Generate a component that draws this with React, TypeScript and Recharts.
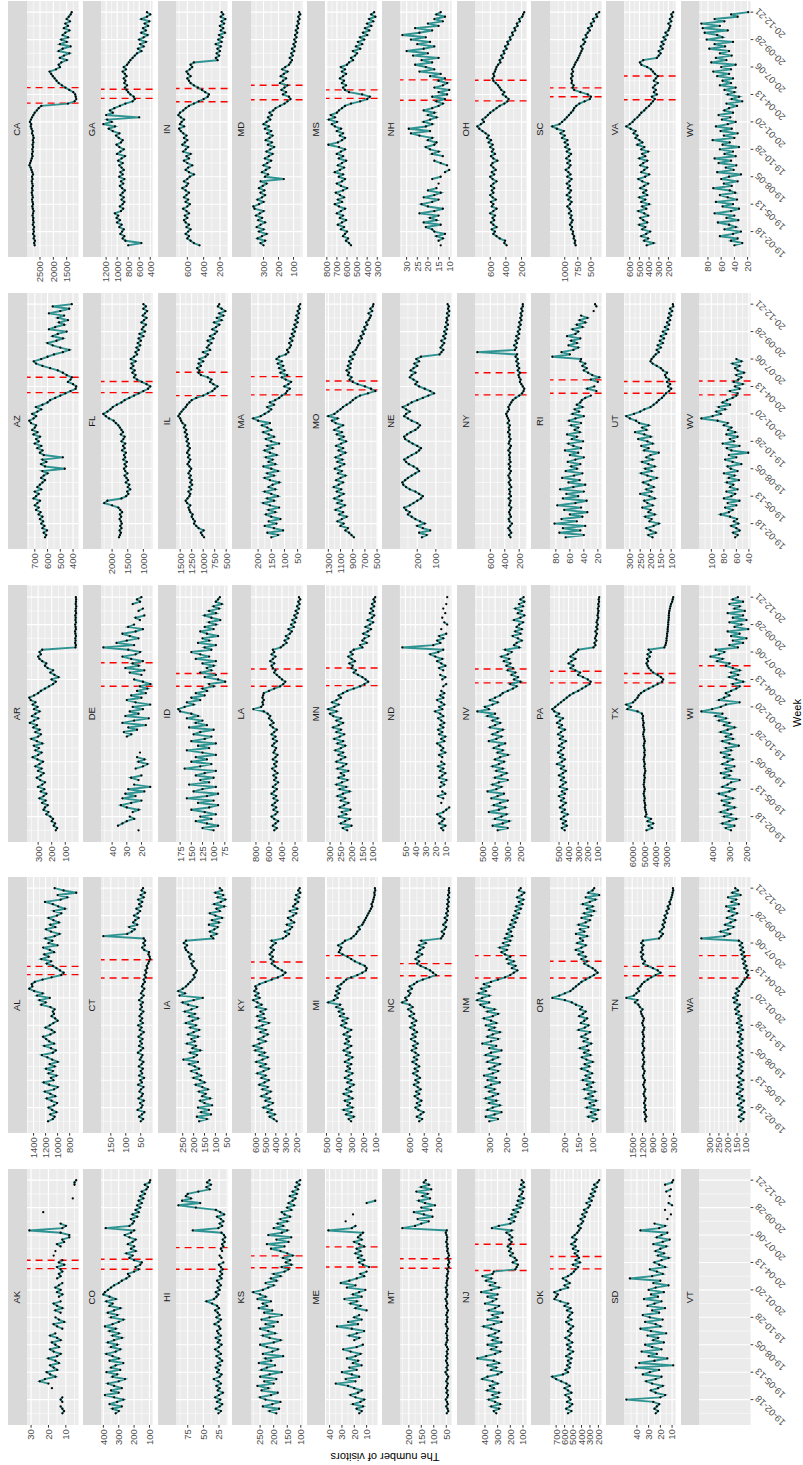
import React from 'react'
import { LineChart, Line, XAxis, YAxis, CartesianGrid, ReferenceLine } from 'recharts'

const _ = null

// weeks counted from 2019-02-18 (first point 2019-01-07, last 2020-12-21)
const WEEKS = [
  -6, -5, -4, -3, -2, -1, 0, 1, 2, 3, 4, 5, 6, 7, 8, 9, 10, 11, 12, 13, 14, 15, 16, 17, 18, 19, 20,
  21, 22, 23, 24, 25, 26, 27, 28, 29, 30, 31, 32, 33, 34, 35, 36, 37, 38, 39, 40, 41, 42, 43, 44, 45,
  46, 47, 48, 49, 50, 51, 52, 53, 54, 55, 56, 57, 58, 59, 60, 61, 62, 63, 64, 65, 66, 67, 68, 69, 70,
  71, 72, 73, 74, 75, 76, 77, 78, 79, 80, 81, 82, 83, 84, 85, 86, 87, 88, 89, 90, 91, 92, 93, 94, 95, 96,
]
const WEEK_TICKS = [0, 12, 24, 36, 48, 60, 72, 84, 96]
const WEEK_LABELS = ['19-02-18', '19-05-13', '19-08-05', '19-10-28', '20-01-20', '20-04-13', '20-07-06', '20-09-28', '20-12-21']
const WEEK_MINOR = [-6, 6, 18, 30, 42, 54, 66, 78, 90]

// weekly visitors per state
const AK = [12, 11, 12, 13, _, 12, 13, 12, _, _, _, 18, _, 20, 25, 22, 16, 19, 21, 15, 17, 19, 14, 16,
  20, 15, 13, 17, 19, 14, 16, 18, 13, 15, 19, 16, _, 12, 15, 17, 11, 14, 16, _, 13, 16, 12, 15,
  17, 13, _, 14, 12, 15, 13, 16, 14, 12, _, 15, 13, 14, 12, 13, 15, 11, 14, 12, _, 17, _, 16,
  _, 13, 15, 11, 12, 8, 8, 13, 31, 12, 10, 13, _, _, _, _, 23, _, _, _, _, _, 6, _, _, _, _, _, 5, 5, 4]
const CO = [320, 300, 340, 280, 360, 310, 270, 330, 390, 300, 350, 280, 330, 370, 300, 260, 340, 310, 380, 290, 350, 320, 270, 360,
  300, 340, 380, 320, 290, 350, 310, 370, 330, 280, 340, 300, 360, 320, 390, 340, 300, 270, 350, 310, 370, 330, 290, 360,
  340, 380, 320, 360, 400, 390, 370, 350, 330, 300, 280, 250, 230, 240, 200, 170, 190, 160, 150, 200, 230, 210, 250, 190,
  220, 200, 240, 210, 190, 230, 260, 220, 200, 385, 230, 210, 200, 220, 180, 210, 170, 190, 160, 180, 150, 170, 140, 160,
  130, 150, 120, 110, 130, 100, 95]
const HI = [26, 22, 30, 24, 20, 28, 23, 31, 25, 19, 27, 24, 29, 22, 26, 33, 24, 21, 28, 25, 30, 23, 27, 20,
  24, 29, 22, 26, 31, 25, 21, 27, 24, 30, 22, 26, 28, 23, 25, 32, 26, 22, 29, 24, 27, 31, 25, 28,
  36, 45, 33, 29, 26, 30, 24, 27, 22, 25, 28, 21, 24, 20, 23, 19, 22, 25, 18, _, 21, 24, _, 20,
  22, 18, 20, 16, 19, 15, 17, 21, 67, 26, 20, 24, 18, 22, 28, 17, 23, 30, 62, 90, 55, 84, 70, 78,
  75, 58, 40, 45, 38, 44, 40]
const KS = [190, 215, 180, 240, 205, 175, 230, 250, 210, 185, 245, 220, 260, 200, 235, 190, 250, 215, 170, 245, 225, 195, 255, 210,
  230, 165, 240, 205, 185, 225, 250, 200, 175, 215, 240, 195, 220, 250, 200, 230, 185, 245, 215, 170, 235, 205, 255, 225,
  240, 210, 260, 230, 250, 275, 240, 220, 200, 230, 190, 210, 175, 200, 160, 145, 170, 135, 155, 140, 165, 130, 150, 175,
  210, 160, 225, 145, 190, 135, 220, 170, 150, 200, 165, 185, 150, 175, 140, 160, 170, 135, 150, 125, 145, 130, 120, 140,
  115, 130, 110, 120, 105, 115, 102]
const ME = [16, 14, 18, 13, 21, 15, 12, 19, 23, 17, 14, 20, 25, 35, 19, 27, 16, 22, 30, 18, 24, 14, 21, 17,
  26, 19, 15, 23, 29, 18, 13, _, 20, 16, 24, 18, 12, 22, 34, 17, 25, 14, 20, 16, _, 10, 19, 15,
  23, 18, 28, 14, 21, 16, 11, 26, 19, 31, 24, 18, 12, 15, 10, _, 8, 13, 16, 12, 17, 14, 19, 15,
  18, 12, 16, 20, 14, 17, 15, 13, 41, 22, 19, _, 27, _, _, 21, _, _, _, _, 10, 3, _, _,
  _, _, _, _, _, _, _]
const MT = [48, 42, 45, 50, 44, 47, 52, 46, 43, 49, 45, 51, 47, 44, 50, 46, 42, 48, 53, 45, 49, 44, 47, 51,
  46, 50, 45, 48, 43, 47, 52, 49, 45, 48, 46, 50, 47, 44, 49, 52, 46, 48, 45, 50, 47, 43, 48, 51,
  46, 49, 53, 47, 45, 50, 48, 52, 46, 49, 47, 44, 48, 45, 42, 46, 40, 43, 38, 41, 44, 39, 42, 46,
  44, 48, 45, 50, 47, 46, 49, 52, 48, 226, 175, 150, 120, 165, 105, 140, 180, 110, 150, 95, 135, 160, 115, 145,
  125, 170, 110, 150, 120, 140, 132]
const NJ = [310, 330, 290, 350, 280, 320, 370, 300, 340, 290, 380, 330, 360, 300, 340, 420, 380, 300, 270, 350, 310, 380, 290, 330,
  460, 390, 320, 280, 350, 310, 380, 270, 340, 300, 370, 320, 290, 350, 410, 330, 270, 380, 300, 340, 260, 370, 320, 290,
  400, 340, 310, 380, 300, 430, 350, 290, 360, 320, 390, 350, 420, 340, 330, 160, 150, 140, 180, 150, 165, 200, 180, 210,
  195, 220, 200, 190, 210, 185, 205, 230, 190, 345, 290, 200, 170, 210, 160, 190, 140, 175, 120, 150, 105, 140, 95, 130,
  110, 100, 125, 90, 115, 95, 110]
const OK = [560, 520, 580, 540, 510, 570, 530, 550, 590, 520, 560, 600, 540, 580, 640, 700, 745, 620, 560, 590, 540, 570, 530, 560,
  520, 580, 540, 500, 560, 530, 570, 510, 550, 590, 540, 520, 560, 530, 500, 550, 580, 520, 560, 540, 510, 570, 530, 600,
  560, 650, 720, 700, 680, 720, 650, 560, 600, 540, 580, 620, 560, 520, 490, 470, 440, 500, 420, 470, 430, 450, 480, 440,
  500, 470, 520, 480, 460, 510, 480, 450, 430, 410, 440, 400, 380, 410, 360, 390, 340, 370, 320, 300, 340, 280, 310, 260,
  290, 240, 270, 220, 250, 210, 190]
const SD = [24, 22, 25, 23, 21, 26, 49, 20, 16, 24, 28, 22, 18, 27, 32, 24, 19, 35, 29, 21, 41, 9, 38, 25,
  14, 30, 23, 36, 19, 27, 33, 17, 26, 22, 31, 15, 28, 37, 20, 24, 33, 18, 29, 35, 21, 27, 16, 31,
  25, 19, 34, 22, 28, 17, 30, 24, 13, 26, 20, 46, 27, 18, 23, 29, 16, 21, 25, 19, 13, 22, 17, 24,
  20, 15, 26, 18, 12, 23, 19, 14, 37, 21, 16, 25, _, 14, _, 11, _, 16, _, 10, 13, _, _, 12,
  _, 15, 11, _, 16, 10, 9]
const VT: (number | null)[] = []

const AL = [1160, 1080, 1050, 1120, 1020, 1090, 1150, 1060, 1010, 1100, 1180, 1040, 1120, 1210, 1060, 1000, 1140, 1230, 1070, 1110, 1020, 1150, 1080, 1190,
  1050, 1130, 1000, 1090, 1170, 1260, 1080, 1030, 1110, 1220, 1060, 1140, 1190, 1240, 1120, 1050, 1100, 1200, 1130, 1070, 1000, 1040, 1100, 1060,
  1080, 1050, 1120, 1270, 1200, 1300, 1130, 1340, 1250, 1390, 1470, 1420, 1430, 1380, 1250, 1100, 940, 900, 960, 1020, 1080, 1180, 1110, 1270,
  1150, 1220, 1060, 1130, 1240, 1000, 1150, 1090, 1200, 1050, 970, 1110, 1190, 1040, 1120, 980, 1070, 1150, 1010, 940, 1060, 880, 990, 1080,
  1210, 950, 840, 1000, 690, 900, 1050]
const CT = [50, 42, 55, 46, 38, 60, 48, 44, 52, 40, 57, 47, 43, 54, 49, 41, 58, 46, 51, 39, 55, 45, 50, 43,
  56, 47, 41, 53, 48, 44, 59, 50, 42, 55, 46, 52, 44, 57, 49, 40, 53, 47, 58, 43, 51, 45, 54, 48,
  41, 52, 46, 50, 43, 55, 47, 40, 49, 44, 38, 46, 42, 36, 40, 33, 37, 31, 34, 28, 30, 25, 22, 18,
  20, 24, 22, 38, 45, 36, 41, 35, 40, 175, 95, 80, 70, 88, 62, 75, 68, 57, 72, 60, 52, 64, 48, 55,
  45, 58, 40, 50, 36, 47, 42]
const IA = [175, 140, 185, 120, 165, 130, 180, 115, 150, 170, 125, 160, 145, 175, 135, 160, 190, 150, 170, 200, 165, 185, 210, 175,
  195, 220, 180, 247, 200, 185, 215, 170, 205, 190, 230, 195, 210, 180, 225, 200, 175, 215, 190, 235, 205, 180, 220, 195,
  240, 210, 185, 225, 250, 200, 158, 265, 240, 270, 250, 235, 225, 215, 205, 195, 200, 190, 185, 195, 205, 210, 200, 215,
  220, 210, 225, 235, 240, 230, 245, 235, 110, 120, 95, 125, 105, 90, 130, 85, 115, 70, 100, 125, 80, 95, 60, 105,
  75, 55, 90, 65, 100, 70, 80]
const KY = [390, 420, 460, 410, 480, 440, 520, 470, 430, 500, 460, 540, 490, 450, 530, 480, 560, 510, 470, 540, 500, 580, 520, 470,
  550, 500, 590, 530, 480, 560, 510, 600, 540, 617, 560, 500, 570, 520, 480, 550, 500, 590, 530, 470, 560, 510, 580, 520,
  550, 500, 590, 540, 580, 620, 560, 600, 570, 610, 590, 600, 560, 500, 440, 380, 330, 305, 340, 380, 410, 440, 420, 450,
  430, 460, 440, 420, 450, 430, 400, 440, 330, 300, 270, 310, 260, 240, 290, 220, 250, 280, 230, 200, 260, 190, 230, 210,
  180, 210, 170, 200, 160, 180, 165]
const MI = [300, 320, 280, 340, 300, 360, 290, 330, 310, 350, 290, 320, 360, 300, 340, 310, 280, 330, 300, 350, 320, 290, 340, 310,
  330, 300, 350, 320, 290, 340, 310, 360, 330, 300, 350, 320, 340, 310, 360, 330, 300, 350, 380, 340, 370, 330, 390, 360,
  400, 370, 420, 390, 485, 440, 410, 430, 400, 420, 390, 410, 380, 360, 340, 300, 250, 210, 180, 175, 190, 230, 270, 300,
  330, 370, 400, 390, 380, 405, 370, 350, 300, 280, 260, 250, 230, 240, 210, 200, 190, 180, 170, 160, 150, 140, 130, 135,
  125, 120, 115, 110, 112, 105, 108]
const NC = [470, 430, 500, 450, 410, 480, 520, 460, 500, 440, 490, 530, 470, 510, 450, 490, 540, 480, 520, 460, 500, 550, 490, 530,
  470, 510, 560, 500, 540, 480, 520, 570, 510, 550, 490, 530, 580, 520, 560, 500, 540, 590, 530, 570, 510, 550, 600, 540,
  580, 620, 560, 600, 700, 640, 660, 610, 590, 620, 570, 600, 540, 500, 420, 330, 240, 280, 320, 380, 450, 500, 470, 520,
  480, 430, 500, 460, 410, 470, 380, 440, 170, 150, 130, 160, 120, 100, 140, 110, 90, 120, 80, 100, 75, 90, 70, 85,
  65, 80, 60, 75, 58, 65, 60]
const NM = [300, 250, 320, 270, 230, 310, 280, 240, 300, 260, 320, 280, 250, 300, 270, 320, 290, 240, 310, 260, 330, 280, 250, 300,
  270, 240, 310, 280, 250, 320, 290, 230, 300, 260, 340, 290, 250, 310, 280, 240, 300, 270, 320, 260, 290, 330, 280, 250,
  310, 270, 330, 350, 300, 368, 340, 300, 360, 320, 345, 300, 330, 290, 250, 210, 180, 160, 140, 170, 150, 190, 160, 200,
  180, 210, 230, 200, 240, 190, 220, 180, 210, 170, 200, 175, 190, 160, 180, 150, 170, 140, 160, 130, 150, 120, 145, 110,
  130, 105, 140, 115, 100, 130, 120]
const OR = [100, 85, 115, 90, 105, 80, 120, 95, 110, 88, 125, 100, 115, 92, 130, 105, 120, 98, 135, 110, 125, 102, 118, 140,
  112, 128, 100, 122, 138, 108, 130, 115, 145, 120, 105, 132, 118, 140, 125, 110, 150, 128, 115, 142, 130, 120, 148, 135,
  125, 145, 138, 160, 175, 200, 245, 220, 200, 180, 170, 160, 150, 140, 125, 110, 95, 82, 90, 100, 115, 130, 120, 140,
  125, 150, 135, 160, 140, 125, 155, 135, 145, 120, 160, 130, 145, 115, 150, 125, 110, 140, 105, 130, 95, 120, 100, 135,
  110, 90, 125, 76, 115, 100, 94]
const TN = [1110, 1130, 1090, 1120, 1150, 1100, 1140, 1120, 1160, 1130, 1110, 1150, 1170, 1140, 1120, 1160, 1180, 1150, 1130, 1170, 1190, 1160, 1140, 1180,
  1200, 1170, 1150, 1190, 1160, 1180, 1210, 1170, 1150, 1190, 1200, 1170, 1190, 1160, 1180, 1200, 1170, 1150, 1190, 1210, 1180, 1160, 1200, 1230,
  1250, 1200, 1280, 1320, 1420, 1350, 1670, 1450, 1380, 1300, 1340, 1260, 1220, 1150, 1050, 950, 820, 680, 760, 900, 1050, 1180, 1130, 1210,
  1230, 1180, 1250, 1200, 1220, 1170, 1240, 1190, 720, 660, 610, 700, 640, 580, 620, 550, 590, 520, 560, 480, 510, 440, 470, 400,
  420, 380, 360, 340, 330, 310, 320]
const WA = [130, 115, 140, 125, 110, 135, 120, 145, 128, 112, 138, 122, 150, 132, 118, 145, 126, 140, 115, 135, 150, 128, 120, 142,
  125, 138, 115, 130, 145, 122, 136, 118, 132, 148, 126, 140, 120, 135, 128, 145, 118, 138, 124, 150, 130, 142, 126, 155,
  140, 160, 148, 135, 165, 150, 170, 145, 158, 140, 152, 135, 125, 118, 108, 95, 88, 100, 92, 110, 98, 115, 105, 120,
  108, 125, 112, 130, 118, 135, 122, 140, 347, 220, 190, 240, 200, 170, 215, 185, 160, 205, 175, 150, 195, 165, 210, 140,
  180, 155, 200, 130, 175, 145, 160]

const AR = [170, 160, 185, 175, 200, 190, 210, 240, 225, 260, 250, 230, 270, 245, 290, 260, 240, 280, 255, 300, 270, 250, 285, 310,
  280, 260, 300, 275, 320, 290, 265, 305, 340, 300, 275, 320, 295, 330, 270, 310, 350, 300, 280, 320, 290, 335, 310, 360,
  330, 300, 345, 320, 290, 330, 305, 340, 320, 355, 365, 330, 300, 280, 250, 220, 190, 170, 200, 150, 180, 210, 190, 230,
  250, 240, 270, 290, 300, 280, 290, 270, 25, 22, 27, 24, 26, 21, 25, 28, 22, 24, 27, 21, 25, 23, 26, 20,
  24, 22, 19, 23, 21, 20, 22]
const DE = [22, _, 36, 33, 30, 25, 28, _, 26, 22, 30, 34, 27, 20, 33, 24, 31, 18, 29, 14, 25, _, 22, 27,
  20, _, _, 24, 19, 16, 22, 18, 23, _, 21, _, _, _, _, _, _, 30, 27, 32, 23, 29, 17, 33,
  25, 15, 31, 22, 28, 19, 26, 14, 24, 30, 20, 27, 17, 23, 16, 21, 14, 19, 25, _, 20, 28, 18, 31,
  22, 26, 19, 27, 33, 24, 21, 29, 46, 25, 37, 30, 22, 28, 33, 24, 19, 29, 25, _, 21, 24, 18, _,
  22, 19, _, 26, 21, 23, 20]
const ID = [100, 125, 90, 115, 140, 105, 130, 95, 120, 150, 110, 90, 135, 100, 160, 115, 90, 145, 125, 95, 155, 110, 130, 100,
  140, 120, 95, 165, 130, 105, 150, 115, 140, 95, 125, 160, 110, 135, 95, 150, 120, 105, 145, 130, 100, 155, 115, 140,
  125, 160, 135, 150, 175, 179, 165, 145, 160, 130, 150, 120, 140, 115, 125, 100, 110, 74, 90, 120, 95, 130, 105, 115,
  100, 125, 95, 140, 110, 130, 150, 105, 120, 95, 135, 110, 125, 90, 115, 130, 100, 120, 95, 110, 85, 105, 120, 95,
  110, 88, 100, 82, 95, 90, 86]
const LA = [520, 480, 540, 500, 460, 520, 560, 500, 470, 530, 490, 550, 510, 470, 530, 490, 560, 520, 480, 540, 500, 460, 520, 490,
  530, 470, 510, 550, 490, 520, 480, 540, 500, 470, 530, 510, 490, 550, 520, 480, 540, 500, 560, 520, 480, 540, 580, 530,
  560, 600, 580, 620, 680, 840, 720, 690, 700, 680, 700, 690, 680, 600, 520, 430, 380, 350, 400, 440, 480, 520, 500, 540,
  560, 520, 580, 540, 500, 560, 520, 540, 420, 380, 330, 360, 300, 340, 280, 250, 300, 220, 260, 200, 240, 180, 210, 160,
  190, 140, 170, 130, 150, 120, 140]
const MN = [220, 240, 200, 250, 230, 210, 260, 225, 245, 205, 255, 235, 215, 250, 230, 265, 240, 210, 255, 225, 270, 245, 220, 260,
  235, 250, 215, 265, 240, 225, 270, 250, 230, 260, 240, 275, 250, 230, 265, 240, 280, 255, 235, 270, 250, 285, 260, 240,
  270, 250, 285, 300, 270, 308, 280, 260, 290, 270, 250, 260, 240, 220, 190, 160, 140, 123, 135, 150, 170, 190, 180, 200,
  195, 210, 185, 200, 215, 195, 205, 190, 150, 160, 130, 150, 140, 120, 145, 125, 110, 135, 115, 100, 125, 105, 95, 115,
  100, 110, 95, 105, 92, 98, 90]
const ND = [12, 14, 10, 16, 13, 11, 15, 18, 12, 9, 6, _, 14, _, 12, 17, 10, 13, _, 15, 11, 14, 9, 16,
  13, 10, 15, 12, 17, 11, 14, _, 13, 16, 10, 14, 12, 15, 18, 11, 14, 10, 16, 13, 17, 12, 15, 11,
  14, 17, 12, 15, 20, 13, 16, 11, 14, 18, 12, 15, 11, 14, _, 12, 9, _, 13, 10, 15, _, 12, 16,
  10, 14, 18, 13, 20, 25, 17, 12, 53, 22, 15, 18, 12, 16, 9, _, 14, _, 8, 11, _, 13, _, 10,
  _, 12, _, 9, _, _, 8]
const NV = [380, 300, 420, 340, 290, 400, 350, 310, 450, 370, 320, 410, 360, 300, 430, 380, 330, 460, 390, 350, 420, 370, 300, 400,
  350, 310, 390, 340, 420, 370, 330, 400, 360, 300, 380, 340, 410, 370, 320, 450, 390, 350, 420, 380, 340, 440, 400, 360,
  420, 380, 460, 400, 540, 450, 480, 420, 380, 440, 400, 360, 340, 300, 260, 230, 280, 200, 250, 220, 270, 240, 300, 260,
  310, 280, 330, 290, 350, 300, 270, 320, 210, 250, 230, 190, 220, 260, 200, 240, 190, 230, 210, 180, 250, 200, 170, 220,
  190, 240, 180, 210, 170, 200, 175]
const PA = [440, 470, 420, 460, 430, 480, 450, 410, 470, 440, 490, 460, 430, 480, 450, 500, 440, 470, 420, 490, 460, 430, 480, 450,
  500, 460, 430, 480, 450, 520, 470, 440, 490, 460, 510, 480, 450, 500, 470, 430, 490, 460, 510, 480, 440, 500, 470, 520,
  490, 460, 530, 500, 550, 570, 540, 510, 480, 450, 420, 390, 350, 300, 260, 220, 180, 170, 200, 250, 300, 280, 330, 380,
  350, 400, 370, 330, 380, 350, 320, 300, 140, 120, 130, 110, 125, 115, 105, 120, 100, 110, 95, 108, 100, 90, 98, 92,
  88, 95, 85, 90, 82, 86, 80]
const TX = [4800, 4300, 4600, 4200, 4700, 4400, 4900, 4800, 4850, 4900, 4950, 4900, 4950, 5000, 4950, 5000, 5050, 5000, 4950, 5000, 5050, 5000, 5000, 4950,
  5000, 4950, 4900, 4950, 5000, 4950, 5000, 5050, 5000, 4950, 5000, 4950, 5000, 5050, 5000, 4950, 5000, 5050, 5100, 5050, 5000, 5050, 5100, 5050,
  5100, 5150, 5100, 5200, 5600, 6500, 6200, 6600, 6000, 5800, 5600, 5500, 5300, 5000, 4600, 4200, 3800, 3400, 3300, 3500, 3800, 4200, 4400, 4600,
  4700, 4800, 4650, 4750, 4500, 4700, 4400, 4600, 3200, 3100, 3050, 3000, 3000, 2950, 2950, 2900, 2900, 2880, 2850, 2850, 2820, 2800, 2800, 2780,
  2750, 2700, 2650, 2600, 2500, 2450, 2400]
const WI = [290, 320, 270, 340, 300, 260, 330, 290, 350, 310, 270, 330, 300, 345, 280, 320, 360, 300, 270, 340, 310, 290, 240, 330,
  300, 350, 290, 320, 270, 340, 310, 280, 330, 300, 350, 290, 320, 245, 300, 340, 280, 320, 290, 350, 310, 270, 330, 300,
  360, 320, 380, 340, 463, 400, 350, 320, 240, 360, 330, 300, 320, 290, 260, 240, 280, 220, 260, 300, 250, 290, 240, 280,
  320, 300, 370, 340, 410, 360, 330, 380, 250, 300, 220, 280, 200, 290, 240, 310, 190, 270, 230, 300, 200, 280, 220, 310,
  210, 270, 240, 300, 220, 280, 250]

const AZ = [620, 610, 630, 605, 640, 625, 650, 635, 660, 640, 670, 655, 690, 670, 700, 680, 660, 710, 690, 670, 700, 650, 680, 660,
  640, 620, 650, 630, 600, 640, 465, 620, 650, 610, 640, 480, 630, 660, 640, 680, 650, 700, 670, 690, 660, 710, 680, 720,
  700, 690, 730, 743, 710, 690, 720, 680, 650, 690, 640, 600, 580, 540, 500, 460, 420, 380, 375, 400, 440, 420, 410, 450,
  480, 520, 580, 640, 690, 708, 650, 600, 550, 480, 430, 500, 560, 600, 530, 480, 560, 520, 450, 590, 540, 470, 510, 440,
  520, 470, 590, 500, 430, 560, 410]
const FL = [1780, 1750, 1720, 1760, 1700, 1740, 1690, 1720, 1760, 1710, 1750, 1680, 1740, 1800, 2000, 2250, 2150, 1700, 1550, 1480, 1520, 1420, 1500, 1450,
  1560, 1490, 1540, 1600, 1510, 1580, 1620, 1550, 1600, 1530, 1640, 1580, 1620, 1560, 1680, 1600, 1650, 1580, 1700, 1640, 1600, 1720, 1650, 1700,
  1750, 1800, 1880, 1950, 2100, 2200, 2280, 2150, 2050, 1980, 1850, 1700, 1600, 1450, 1300, 1150, 1000, 850, 780, 900, 1050, 1200, 1300, 1250,
  1350, 1280, 1400, 1320, 1380, 1250, 1400, 1300, 1200, 1250, 1150, 1220, 1100, 1180, 1080, 1150, 1000, 1120, 950, 1050, 1000, 920, 1060, 980,
  900, 1020, 950, 880, 1000, 920, 1000]
const IL = [980, 1020, 1050, 990, 1100, 1150, 1200, 1180, 1220, 1250, 1230, 1280, 1300, 1320, 1280, 1350, 1380, 1340, 1300, 1280, 1320, 1260, 1300, 1240,
  1280, 1250, 1300, 1270, 1320, 1290, 1260, 1300, 1340, 1310, 1280, 1330, 1300, 1350, 1320, 1290, 1340, 1310, 1360, 1330, 1380, 1350, 1400, 1370,
  1420, 1390, 1450, 1480, 1500, 1540, 1510, 1470, 1430, 1380, 1350, 1300, 1250, 1150, 1000, 900, 800, 750, 690, 780, 850, 820, 900, 1050,
  1100, 1080, 1130, 1050, 1100, 1000, 1080, 950, 900, 1000, 850, 920, 880, 820, 900, 780, 850, 750, 700, 800, 720, 650, 760, 600,
  700, 560, 650, 520, 600, 680, 650]
const MA = [150, 125, 165, 105, 140, 175, 130, 160, 115, 150, 170, 135, 160, 120, 155, 180, 140, 165, 125, 150, 175, 135, 160, 145,
  120, 155, 175, 140, 165, 125, 150, 180, 135, 160, 145, 170, 130, 155, 175, 145, 165, 120, 150, 170, 140, 160, 180, 150,
  165, 185, 155, 200, 218, 190, 175, 160, 150, 165, 140, 155, 135, 120, 110, 95, 90, 80, 100, 85, 75, 95, 110, 90,
  115, 100, 120, 105, 125, 110, 130, 120, 95, 85, 90, 80, 75, 82, 70, 78, 65, 72, 60, 68, 55, 62, 50, 58,
  48, 55, 45, 50, 42, 46, 40]
const MO = [880, 920, 960, 1020, 980, 1100, 1050, 1150, 1080, 1000, 1120, 1060, 1180, 1100, 1030, 1150, 1080, 1200, 1120, 1050, 1160, 1090, 1210, 1130,
  1060, 1170, 1100, 1020, 1140, 1080, 1190, 1110, 1040, 1150, 1070, 1180, 1100, 1020, 1130, 1060, 1170, 1090, 1010, 1120, 1050, 1160, 1080, 1200,
  1130, 1060, 1180, 1240, 1150, 1300, 1200, 1150, 1100, 1060, 1000, 940, 900, 850, 780, 650, 530, 600, 700, 820, 900, 950, 920, 980,
  960, 1000, 940, 980, 930, 960, 900, 940, 870, 900, 850, 830, 810, 780, 800, 750, 770, 720, 740, 690, 710, 660, 680, 640,
  620, 600, 640, 580, 610, 570, 560]
const NE = [175, 150, 190, 130, 170, 200, 160, 185, 210, 230, 250, 240, 260, 270, 240, 220, 200, 180, 170, 190, 210, 240, 260, 275,
  280, 265, 250, 230, 210, 190, 200, 220, 245, 260, 270, 250, 230, 205, 190, 180, 200, 225, 245, 265, 270, 255, 235, 210,
  195, 185, 200, 230, 250, 270, 260, 240, 260, 278, 250, 230, 200, 170, 140, 110, 130, 160, 190, 210, 200, 220, 240, 230,
  210, 235, 220, 200, 215, 190, 205, 180, 80, 70, 60, 75, 65, 55, 70, 50, 60, 45, 55, 40, 50, 35, 45, 38,
  42, 30, 40, 28, 35, 30, 37]
const NY = [320, 340, 310, 330, 350, 325, 300, 335, 345, 315, 330, 340, 325, 310, 340, 330, 320, 345, 315, 335, 325, 340, 310, 330,
  345, 320, 335, 350, 330, 315, 340, 325, 345, 320, 335, 330, 340, 325, 350, 330, 315, 345, 335, 320, 340, 330, 355, 335,
  345, 330, 360, 340, 355, 370, 380, 360, 340, 350, 330, 310, 290, 250, 200, 160, 140, 130, 150, 170, 190, 180, 200, 210,
  190, 220, 200, 230, 210, 240, 220, 250, 230, 780, 260, 240, 270, 230, 250, 210, 240, 200, 220, 190, 210, 180, 200, 170,
  185, 165, 180, 155, 170, 150, 150]
const RI = [66, 40, 75, 45, 70, 38, 82, 50, 72, 42, 60, 35, 68, 44, 78, 52, 36, 70, 48, 65, 40, 74, 55, 38,
  62, 46, 71, 54, 42, 66, 50, 58, 45, 63, 52, 40, 60, 48, 67, 44, 55, 62, 41, 57, 50, 64, 46, 53,
  48, 58, 44, 61, 52, 40, 56, 47, 53, 42, 50, 45, 43, 38, 30, _, 22, 35, 25, _, 20, 30, 18, 28,
  34, 40, 36, 42, 38, 45, 44, 85, 60, 72, 55, 48, 62, 50, 58, 45, 64, 52, 48, 56, 42, 50, 38, 46,
  35, 44, _, 26, _, 22, 24]
const UT = [190, 210, 175, 200, 220, 185, 160, 205, 195, 225, 180, 210, 200, 240, 190, 215, 230, 180, 205, 250, 195, 220, 185, 210,
  235, 200, 170, 215, 245, 195, 225, 180, 210, 240, 190, 220, 200, 160, 230, 210, 245, 190, 215, 260, 200, 230, 275, 220,
  240, 210, 255, 270, 300, 317, 280, 250, 230, 200, 185, 170, 160, 145, 135, 125, 110, 100, 115, 105, 120, 110, 125, 130,
  120, 140, 150, 170, 190, 200, 195, 185, 175, 160, 170, 150, 165, 140, 155, 135, 150, 125, 140, 115, 130, 110, 120, 105,
  115, 100, 110, 95, 105, 90, 92]
const WV = [62, 58, 65, 55, 60, 68, 57, 64, 59, 70, 85, 72, 66, 78, 60, 74, 55, 80, 68, 62, 76, 58, 70, 65,
  75, 56, 72, 63, 80, 58, 69, 74, 52, 66, 78, 60, 72, 41, 68, 75, 55, 82, 64, 70, 58, 76, 62, 73,
  68, 80, 74, 90, 116, 98, 85, 92, 78, 88, 70, 82, 75, 66, 60, 58, 70, 55, 62, 50, 64, 57, 52, 60,
  48, 58, 62, 55, 66, 52, 60, _, _, _, _, _, _, _, _, _, _, _, _, _, _, _, _, _,
  _, _, _, _, _, _, _]

const CA = [2700, 2720, 2690, 2740, 2710, 2760, 2730, 2750, 2720, 2770, 2740, 2760, 2750, 2780, 2760, 2740, 2770, 2790, 2760, 2780, 2800, 2770, 2790, 2810,
  2780, 2800, 2770, 2790, 2810, 2780, 2800, 2760, 2790, 2820, 2850, 2900, 2870, 2840, 2810, 2780, 2800, 2770, 2790, 2760, 2780, 2750, 2770, 2740,
  2760, 2800, 2780, 2820, 2850, 2830, 2880, 2840, 2800, 2750, 2700, 2620, 2550, 2450, 1450, 1200, 1140, 1160, 1180, 1250, 1400, 1550, 1680, 1800,
  1880, 1950, 2020, 2080, 2140, 1900, 1750, 1800, 1700, 1500, 1750, 1600, 1400, 1800, 1650, 1350, 1750, 1500, 1700, 1450, 1650, 1550, 1400, 1600,
  1450, 1550, 1380, 1500, 1420, 1350, 1310]
const GA = [800, 560, 850, 900, 870, 940, 910, 880, 960, 920, 1000, 950, 1010, 980, 1040, 930, 890, 950, 900, 870, 920, 880, 940, 900,
  860, 910, 950, 890, 930, 870, 960, 900, 940, 880, 920, 960, 900, 980, 920, 860, 1000, 940, 880, 960, 1010, 930, 900, 970,
  1020, 960, 1080, 1150, 1040, 1250, 1100, 1180, 600, 1200, 1080, 1130, 1050, 950, 850, 720, 680, 700, 760, 800, 830, 860, 820, 870,
  850, 880, 830, 860, 900, 840, 880, 820, 790, 760, 720, 680, 640, 560, 620, 520, 580, 480, 600, 520, 450, 560, 480, 530,
  440, 500, 420, 560, 460, 400, 460]
const IN = [450, 520, 560, 600, 580, 620, 590, 560, 610, 580, 620, 640, 600, 630, 580, 610, 650, 600, 570, 620, 590, 640, 610, 580,
  620, 660, 610, 590, 640, 600, 570, 520, 580, 620, 590, 540, 600, 640, 580, 610, 560, 650, 620, 590, 660, 630, 600, 640,
  610, 650, 680, 700, 640, 690, 670, 640, 680, 710, 690, 650, 620, 580, 520, 460, 400, 350, 335, 380, 420, 470, 520, 560,
  580, 600, 560, 590, 610, 570, 540, 560, 520, 230, 250, 210, 240, 200, 230, 190, 250, 180, 220, 170, 210, 140, 190, 160,
  200, 150, 180, 135, 190, 160, 180]
const MD = [300, 320, 290, 340, 310, 280, 330, 300, 345, 320, 290, 335, 310, 350, 325, 300, 360, 368, 330, 300, 340, 310, 290, 320,
  295, 330, 305, 280, 320, 165, 290, 270, 310, 285, 260, 300, 275, 250, 290, 265, 240, 280, 255, 230, 270, 245, 285, 260,
  240, 275, 250, 290, 265, 300, 280, 255, 270, 245, 260, 235, 220, 190, 160, 140, 120, 130, 170, 150, 180, 160, 140, 190,
  170, 150, 185, 165, 140, 175, 155, 130, 120, 110, 125, 105, 115, 95, 110, 90, 100, 85, 95, 80, 90, 75, 85, 70,
  78, 65, 72, 60, 68, 55, 62]
const MS = [560, 580, 610, 590, 640, 620, 600, 660, 630, 690, 650, 610, 670, 640, 700, 660, 620, 680, 720, 650, 690, 630, 670, 710,
  640, 600, 660, 700, 650, 620, 680, 640, 720, 670, 630, 690, 650, 610, 680, 640, 700, 660, 620, 680, 785, 690, 650, 620,
  670, 640, 700, 660, 720, 750, 700, 780, 720, 760, 700, 680, 650, 620, 560, 470, 400, 375, 450, 580, 620, 640, 610, 650,
  630, 670, 640, 610, 650, 620, 660, 600, 580, 540, 560, 520, 500, 540, 470, 510, 450, 490, 430, 470, 400, 440, 380, 420,
  360, 400, 340, 380, 320, 360, 330]
const NH = [14, _, 15, 13, 16, 12, 17, 18, 21, 14, 22, 16, 19, 15, 24, 17, 13, 20, 23, 18, 15, 22, 17, 14,
  20, 16, _, 15, _, 18, 14, _, 12, 10, _, 11, 14, 17, _, 13, 18, 15, 19, 21, 17, 16, 20, 18,
  24, 28, 19, 29, 21, 18, 22, 19, 16, 20, 17, 22, 18, 15, 13, 16, 12, 18, 11, 15, 10, 17, 13, 11,
  15, 12, 19, 14, 24, 17, 21, 26, 18, 23, 15, 27, 20, 30, 22, 17, 25, 19, 28, 21, 32, 24, 18, 26,
  15, 20, 13, 17, 12, 16, 14]
const OH = [390, 420, 410, 480, 520, 560, 540, 580, 520, 560, 590, 550, 570, 540, 600, 560, 520, 580, 560, 590, 530, 570, 600, 560,
  580, 550, 590, 560, 520, 570, 600, 550, 580, 530, 560, 590, 570, 510, 560, 590, 540, 580, 560, 600, 570, 620, 590, 640,
  620, 660, 700, 740, 765, 720, 680, 700, 660, 630, 600, 560, 520, 480, 420, 380, 365, 400, 440, 420, 460, 480, 500, 530,
  560, 570, 550, 560, 540, 530, 520, 500, 470, 480, 440, 460, 420, 430, 390, 410, 370, 380, 340, 350, 310, 320, 280, 290,
  250, 260, 220, 230, 190, 180, 165]
const SC = [790, 810, 800, 830, 820, 850, 840, 880, 860, 900, 870, 850, 890, 870, 920, 880, 910, 950, 900, 870, 930, 890, 960, 910,
  880, 940, 900, 960, 910, 870, 950, 890, 930, 980, 920, 890, 950, 900, 970, 920, 880, 960, 910, 990, 940, 1000, 950, 1050,
  1000, 1080, 1020, 1150, 1237, 1100, 1050, 1000, 960, 920, 880, 840, 820, 780, 720, 620, 520, 500, 560, 700, 820, 850, 830, 870,
  860, 880, 850, 870, 840, 860, 830, 810, 790, 760, 740, 720, 700, 680, 660, 690, 640, 610, 650, 580, 600, 560, 520, 550,
  480, 500, 440, 460, 380, 400, 340]
const VA = [425, 355, 450, 410, 480, 430, 390, 470, 440, 500, 420, 460, 490, 410, 450, 510, 430, 470, 400, 480, 440, 500, 420, 460,
  430, 490, 450, 410, 470, 510, 440, 400, 480, 450, 420, 490, 460, 420, 500, 440, 470, 410, 480, 450, 520, 470, 500, 540,
  520, 560, 540, 590, 635, 600, 570, 550, 520, 500, 480, 450, 430, 400, 380, 360, 340, 370, 320, 350, 330, 360, 340, 310,
  350, 330, 310, 340, 360, 380, 420, 480, 495, 460, 320, 300, 280, 300, 260, 280, 250, 270, 230, 250, 210, 230, 200, 190,
  180, 200, 170, 185, 160, 170, 150]
const WY = [40, 28, 45, 35, 62, 42, 30, 55, 38, 48, 65, 34, 52, 40, 70, 45, 33, 58, 42, 68, 36, 50, 62, 39,
  47, 72, 44, 56, 35, 60, 48, 30, 66, 41, 53, 37, 64, 45, 70, 38, 55, 42, 62, 33, 58, 47, 73, 40,
  56, 35, 61, 44, 68, 50, 38, 59, 46, 64, 42, 55, 48, 36, 52, 28, 44, 33, 50, 40, 55, 38, 62, 45,
  58, 42, 66, 48, 72, 45, 60, 38, 75, 52, 68, 44, 62, 48, 78, 54, 70, 42, 82, 58, 66, 85, 50, 88,
  62, 90, 55, 70, 35, 45, 19]

// facet order (5 columns, filled row by row)
const FACETS = [
  'AK', 'AL', 'AR', 'AZ', 'CA', 'CO', 'CT', 'DE', 'FL', 'GA', 'HI', 'IA', 'ID', 'IL', 'IN', 'KS', 'KY', 'LA', 'MA', 'MD',
  'ME', 'MI', 'MN', 'MO', 'MS', 'MT', 'NC', 'ND', 'NE', 'NH', 'NJ', 'NM', 'NV', 'NY', 'OH', 'OK', 'OR', 'PA', 'RI', 'SC',
  'SD', 'TN', 'TX', 'UT', 'VA', 'VT', 'WA', 'WI', 'WV', 'WY',
]

const SERIES: Record<string, (number | null)[]> = {
  AK, AL, AR, AZ, CA, CO, CT, DE, FL, GA, HI, IA, ID, IL, IN, KS, KY, LA, MA, MD,
  ME, MI, MN, MO, MS, MT, NC, ND, NE, NH, NJ, NM, NV, NY, OH, OK, OR, PA, RI, SC,
  SD, TN, TX, UT, VA, VT, WA, WI, WV, WY,
}

const Y_TICKS: Record<string, number[]> = {
  AK: [10, 20, 30], AL: [800, 1000, 1200, 1400], AR: [100, 200, 300], AZ: [400, 500, 600, 700], CA: [1500, 2000, 2500],
  CO: [100, 200, 300, 400], CT: [50, 100, 150], DE: [20, 30, 40], FL: [1000, 1500, 2000], GA: [400, 600, 800, 1000, 1200],
  HI: [25, 50, 75], IA: [50, 100, 150, 200, 250], ID: [75, 100, 125, 150, 175], IL: [500, 750, 1000, 1250, 1500], IN: [200, 400, 600],
  KS: [100, 150, 200, 250], KY: [200, 300, 400, 500, 600], LA: [200, 400, 600, 800], MA: [50, 100, 150, 200], MD: [100, 200, 300],
  ME: [10, 20, 30, 40], MI: [100, 200, 300, 400, 500], MN: [100, 150, 200, 250, 300], MO: [500, 700, 900, 1100, 1300], MS: [300, 400, 500, 600, 700, 800],
  MT: [50, 100, 150, 200], NC: [200, 400, 600], ND: [10, 20, 30, 40, 50], NE: [100, 200], NH: [10, 15, 20, 25, 30],
  NJ: [100, 200, 300, 400], NM: [100, 200, 300], NV: [200, 300, 400, 500], NY: [200, 400, 600], OH: [200, 400, 600],
  OK: [200, 300, 400, 500, 600, 700], OR: [100, 150, 200], PA: [100, 200, 300, 400, 500], RI: [20, 40, 60, 80], SC: [500, 750, 1000],
  SD: [10, 20, 30, 40], TN: [300, 600, 900, 1200, 1500], TX: [3000, 4000, 5000, 6000], UT: [100, 150, 200, 250, 300], VA: [200, 300, 400, 500, 600],
  VT: [], WA: [100, 150, 200, 250, 300], WI: [200, 300, 400], WV: [40, 60, 80, 100], WY: [20, 40, 60, 80],
}

// stay-at-home order start / end, in weeks from 2019-02-18
const STAY_HOME: Record<string, number[]> = {
  AK: [57.3, 61], AL: [58.2, 61.8], AZ: [57.3, 64], CA: [56.2, 63], CO: [57, 61.4], CT: [56.7, 64.7], DE: [57, 67.3],
  FL: [57.3, 62.2], GA: [58.3, 62.3], HI: [57, 66.5], ID: [57, 62.6], IL: [56, 66.2], IN: [56.8, 62.6], KS: [57.7, 62.9],
  KY: [56.7, 63.7], LA: [57, 64.6], MA: [56.3, 64.3], MD: [57.7, 64], ME: [58, 66.8], MI: [56.7, 66.5], MN: [57.3, 65],
  MO: [58.5, 62.4], MS: [58.3, 62], MT: [57.5, 61.6], NC: [57.7, 63], NH: [57.5, 66.4], NJ: [56.5, 68], NM: [56.7, 66.5],
  NV: [58.5, 64.6], NY: [56.3, 66], OH: [57.2, 66.2], OK: [57.2, 62.6], OR: [56.7, 64], PA: [58.5, 63.6], RI: [57, 62.9],
  SC: [59, 62.9], TN: [57.7, 61.8], TX: [58.5, 62.6], UT: [57, 62.2], VA: [57.7, 68.1], WA: [56.7, 66.5], WI: [57, 66],
  WV: [56.3, 62.4],
}

// layout of the (unrotated) plot
const PAGE_W = 1465
const PAGE_H = 803
const COL_LEFT = [39.5, 331.5, 623, 915.5, 1207.5]
const PANEL_W = 256.5
const ROW_TOP = 8.3
const ROW_STEP = 74.7
const STRIP_H = 18.4
const PANEL_H = 51.6
const AXIS_W = 34
const PAD = 7
const X_AXIS_H = 46
const X_DOMAIN = [-11.1, 101.1]
const FONT = 'Liberation Sans, Arial, Helvetica, sans-serif'
const TEAL = '#2E9391'

function Facet({ name, index }: { name: string; index: number }) {
  const col = index % 5
  const row = Math.floor(index / 5)
  const top = ROW_TOP + row * ROW_STEP
  const left = COL_LEFT[col]
  const bottom = row === 9
  const vals = SERIES[name]
  const data = WEEKS.map((w, i) => ({ w, v: vals.length ? vals[i] : null }))
  const nums = vals.filter((v): v is number => v != null)
  let lo = 0
  let hi = 1
  if (nums.length) {
    const mn = Math.min(...nums)
    const mx = Math.max(...nums)
    lo = mn - (mx - mn) * 0.05
    hi = mx + (mx - mn) * 0.05
  }
  const ticks = Y_TICKS[name]
  const step = ticks.length > 1 ? ticks[1] - ticks[0] : 0
  const yMinor = step ? [ticks[0] - step / 2, ...ticks.map((t) => t + step / 2)].filter((v) => v > lo && v < hi) : []
  const orders = STAY_HOME[name] || []

  return (
    <>
      <div
        style={{
          position: 'absolute', left, top, width: PANEL_W, height: STRIP_H, background: '#D9D9D9',
          color: '#1A1A1A', fontSize: 9.5, lineHeight: `${STRIP_H}px`, textAlign: 'center',
        }}
      >
        {name}
      </div>
      <div style={{ position: 'absolute', left: left - AXIS_W, top: top + STRIP_H - PAD }}>
        <LineChart
          width={PANEL_W + AXIS_W}
          height={PANEL_H + PAD + (bottom ? X_AXIS_H : PAD)}
          data={data}
          margin={{ top: PAD, right: 0, bottom: bottom ? 0 : PAD, left: 0 }}
        >
          <CartesianGrid fill="#EBEBEB" horizontal={false} vertical={false} />
          {WEEK_MINOR.map((w) => (
            <ReferenceLine key={`xm${w}`} x={w} stroke="#FFFFFF" strokeWidth={0.55} zIndex={-90} />
          ))}
          {yMinor.map((v) => (
            <ReferenceLine key={`ym${v}`} y={v} stroke="#FFFFFF" strokeWidth={0.55} zIndex={-90} />
          ))}
          {WEEK_TICKS.map((w) => (
            <ReferenceLine key={`xM${w}`} x={w} stroke="#FFFFFF" strokeWidth={1.1} zIndex={-80} />
          ))}
          {ticks.map((v) => (
            <ReferenceLine key={`yM${v}`} y={v} stroke="#FFFFFF" strokeWidth={1.1} zIndex={-80} />
          ))}
          <XAxis
            type="number"
            dataKey="w"
            domain={X_DOMAIN}
            allowDataOverflow
            ticks={WEEK_TICKS}
            interval={0}
            hide={!bottom}
            height={X_AXIS_H}
            axisLine={false}
            tickSize={2.7}
            tickMargin={1}
            tickLine={{ stroke: '#333333' }}
            tickFormatter={(w: number) => WEEK_LABELS[WEEK_TICKS.indexOf(w)]}
            angle={-45}
            tick={{ fontSize: 9.5, fill: '#4D4D4D', textAnchor: 'end', angle: -45 }}
          />
          <YAxis
            type="number"
            domain={[lo, hi]}
            allowDataOverflow
            ticks={ticks}
            interval={0}
            width={AXIS_W}
            axisLine={false}
            tickSize={2.7}
            tickMargin={1.5}
            tickLine={{ stroke: '#333333' }}
            tick={ticks.length ? { fontSize: 9.5, fill: '#4D4D4D' } : false}
          />
          {orders.map((w) => (
            <ReferenceLine key={`o${w}`} x={w} stroke="#FF0000" strokeWidth={1.4} strokeDasharray="7 5" zIndex={350} />
          ))}
          <Line
            dataKey="v"
            stroke="none"
            dot={{ r: 1.15, fill: '#000000', stroke: 'none' }}
            activeDot={false}
            isAnimationActive={false}
            zIndex={380}
          />
          <Line
            dataKey="v"
            stroke={TEAL}
            strokeWidth={1.9}
            dot={false}
            activeDot={false}
            isAnimationActive={false}
            zIndex={420}
          />
        </LineChart>
      </div>
    </>
  )
}

export default function App() {
  return (
    <div
      style={{
        position: 'absolute', left: 0, top: 0, width: PAGE_W, height: PAGE_H, background: '#FFFFFF',
        transformOrigin: '0 0', transform: `translateY(${PAGE_W}px) rotate(-90deg)`, fontFamily: FONT,
      }}
    >
      {FACETS.map((name, i) => (
        <Facet key={name} name={name} index={i} />
      ))}
      <div
        style={{
          position: 'absolute', left: 8, top: 385, transform: 'translate(-50%, -50%) rotate(-90deg)',
          whiteSpace: 'nowrap', fontSize: 11, color: '#000000',
        }}
      >
        The number of visitors
      </div>
      <div
        style={{
          position: 'absolute', left: 752, top: 797, transform: 'translate(-50%, -50%)',
          whiteSpace: 'nowrap', fontSize: 11, color: '#000000',
        }}
      >
        Week
      </div>
    </div>
  )
}
